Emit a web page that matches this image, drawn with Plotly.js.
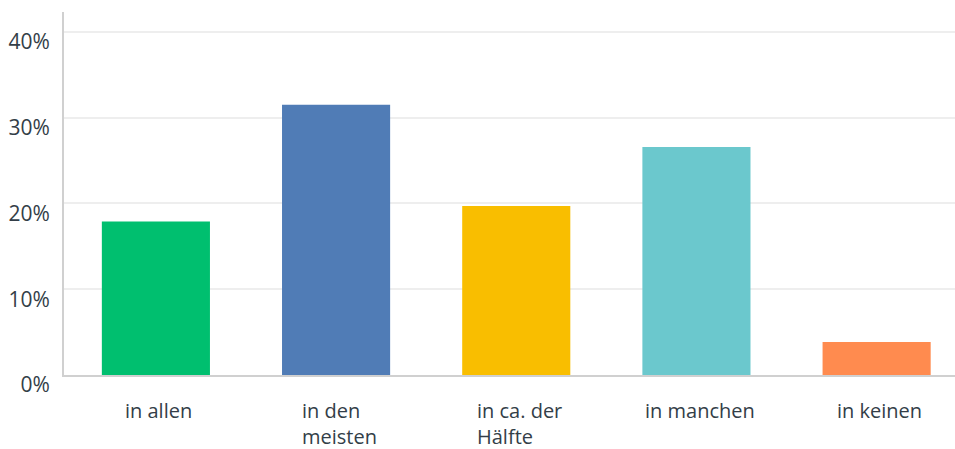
<!DOCTYPE html>
<html>
<head>
<meta charset="utf-8">
<script src="https://cdn.plot.ly/plotly-3.0.1.min.js"></script>
<style>html,body{margin:0;padding:0;background:#fff;}#chart{width:955px;height:449px;}</style>
</head>
<body>
<div id="chart"></div>
<script>
const categories = ['in allen', 'in den meisten', 'in ca. der Hälfte', 'in manchen', 'in keinen'];
const labelLines = [['in allen'], ['in den', 'meisten'], ['in ca. der', 'Hälfte'], ['in manchen'], ['in keinen']];
const values = [17.9, 31.5, 19.7, 26.6, 3.85];
const colors = ['#00BF6F', '#507CB6', '#F9BE00', '#6BC8CD', '#FF8B4F'];
const tickVals = [0, 10, 20, 30, 40];

const FONT = 'Open Sans, sans-serif';
const FS = 20;
const TXT = '#333e48';

const cv = document.createElement('canvas').getContext('2d');
cv.font = FS + "px 'Open Sans'";

const annotations = [];
labelLines.forEach((lines, i) => {
  const w = Math.max(...lines.map(l => cv.measureText(l).width));
  lines.forEach((line, j) => {
    annotations.push({
      x: i, xref: 'x', y: 0, yref: 'paper',
      text: line, showarrow: false,
      xanchor: 'left', yanchor: 'middle', borderpad: 0,
      xshift: -w / 2 + 2, yshift: -35 - j * 26,
      font: {family: FONT, size: FS, color: TXT}
    });
  });
});

const trace = {
  type: 'bar',
  x: categories.map((c, i) => i),
  y: values,
  marker: {color: colors},
  width: 0.6,
  hoverinfo: 'none'
};

const layout = {
  width: 955, height: 449,
  margin: {l: 64, r: 0, t: 12, b: 74},
  paper_bgcolor: '#fff', plot_bgcolor: '#fff',
  showlegend: false,
  bargap: 0.4,
  xaxis: {
    range: [-0.51, 4.435],
    showticklabels: false, showgrid: false, zeroline: false,
    showline: true, linecolor: '#d0d0d0', linewidth: 2,
    ticks: '', fixedrange: true
  },
  yaxis: {
    range: [0, 42.33],
    tickvals: tickVals,
    ticktext: tickVals.map(v => v + '%'),
    showgrid: true, gridcolor: '#eeeeee', gridwidth: 2,
    zeroline: false,
    showline: true, linecolor: '#d0d0d0', linewidth: 2,
    ticks: '', ticklabelstandoff: 8, ticklabelshift: 10,
    tickfont: {family: FONT, size: 21, color: TXT},
    fixedrange: true
  },
  annotations: annotations
};

Plotly.newPlot('chart', [trace], layout, {displayModeBar: false, staticPlot: true});
</script>
</body>
</html>
